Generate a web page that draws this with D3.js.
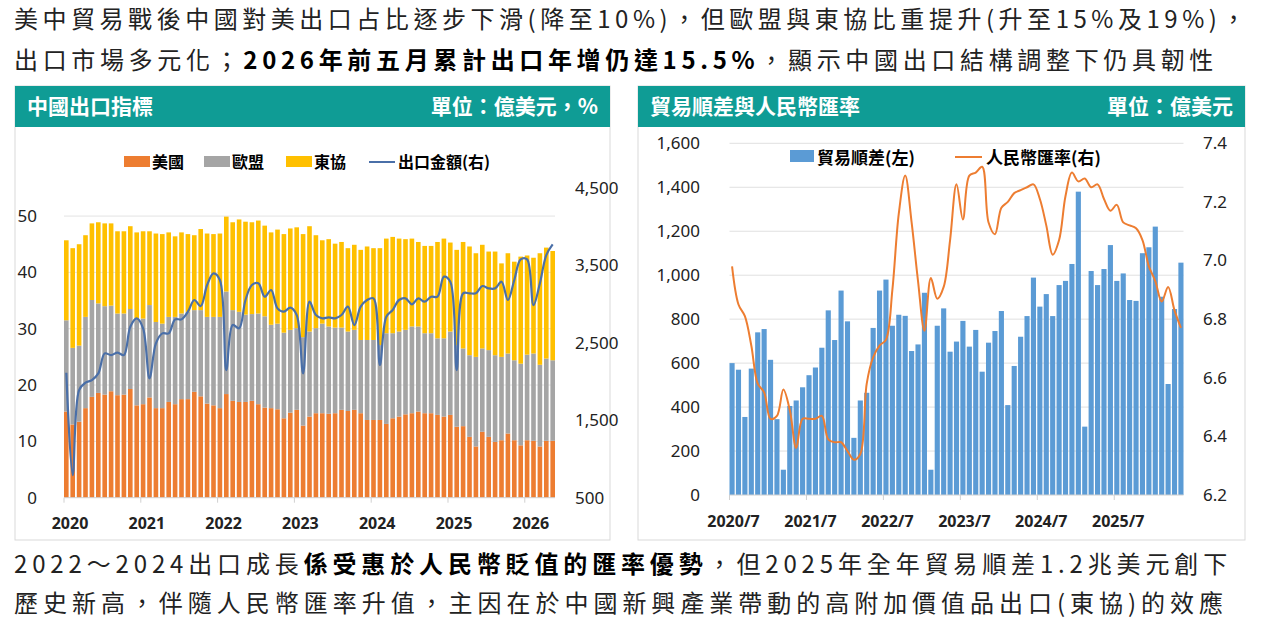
<!DOCTYPE html>
<html><head><meta charset="utf-8">
<script src="https://cdn.jsdelivr.net/npm/d3@7"></script>
<style>
body{margin:0;background:#fff;font-family:"Noto Sans CJK TC","Noto Sans",sans-serif;}
</style></head>
<body><svg id="c" width="1275" height="626"></svg>
<script>
// left chart: monthly 2020/1 - 2026/5, share of exports (%) and total exports (億美元)
const usShare = [15.3,13.0,13.5,15.9,17.9,18.6,18.3,18.9,18.2,18.3,19.3,16.4,
  16.6,17.8,15.9,15.9,17.0,16.6,17.5,17.5,18.8,18.0,16.7,16.4,
  15.9,18.4,17.2,17.0,17.0,17.2,16.6,16.0,15.9,15.7,14.1,15.1,
  15.6,12.8,14.4,15.0,15.0,14.9,15.0,15.6,15.4,15.6,15.0,13.8,
  13.8,13.8,13.1,14.1,14.4,14.8,15.0,15.3,15.0,15.0,14.7,14.4,
  14.7,12.6,12.7,10.8,9.1,11.7,10.8,9.9,10.2,11.4,10.2,9.3,
  10.2,10.1,9.1,10.1,10.1];
const euTop = [31.5,26.6,27.0,32.1,35.1,34.5,34.0,34.1,32.7,32.7,33.5,31.8,
  31.8,34.2,31.2,30.9,32.1,32.1,32.7,33.0,33.3,33.3,32.1,32.1,
  32.1,36.6,33.3,33.0,32.5,32.6,32.7,32.2,30.7,30.9,29.3,29.8,
  30.1,28.5,29.5,30.1,30.9,30.4,30.2,30.2,29.5,29.8,28.0,28.0,
  28.0,27.1,29.2,29.2,29.5,29.8,30.4,30.4,29.2,29.2,28.3,28.3,
  29.5,27.1,26.5,25.3,25.0,26.5,26.2,25.3,25.0,25.6,24.4,23.8,
  25.4,25.6,23.6,24.7,24.4];
const aseanTop = [45.7,44.3,45.0,46.6,48.7,48.9,48.7,48.7,47.3,47.3,48.2,47.1,
  47.3,47.3,46.9,46.8,47.1,46.4,47.1,46.8,46.6,47.7,46.9,46.8,
  46.9,49.9,48.9,49.4,49.0,48.9,49.2,48.3,47.1,47.6,46.8,47.8,
  48.0,46.8,48.2,46.6,45.7,45.9,45.1,45.4,44.3,44.9,44.0,44.6,
  44.3,44.3,46.0,46.3,46.0,45.9,46.0,45.4,44.7,44.7,45.4,46.0,
  45.3,44.0,45.4,44.6,43.4,44.9,43.7,43.7,41.6,43.4,41.9,42.8,
  43.0,42.6,43.4,44.4,43.8];
const exportTotal = [2113,792,1889,1984,2018,2104,2362,2340,2371,2340,2706,2814,
  2685,2040,2491,2620,2620,2801,2801,2900,3051,2973,3244,3395,
  3309,2147,2728,2685,3051,3244,3266,3094,3180,2943,2900,2952,
  2857,2104,3029,2857,2814,2827,2814,2857,2965,2728,2965,3051,
  3072,2212,2836,2922,3051,3072,2995,3072,3029,3094,3094,3352,
  3287,2147,3137,3137,3137,3231,3201,3201,3287,3051,3309,3575,
  3575,2986,3266,3631,3769];
const exportYears = ['2020','2021','2022','2023','2024','2025','2026'];

// right chart: monthly 2020/7 - 2026/5
const surplus = [600,570,355,575,740,755,615,345,115,405,430,490,
  545,580,670,840,705,930,790,260,430,465,760,930,
  980,770,820,815,655,685,920,115,770,849,652,698,
  792,675,751,561,693,746,837,409,587,720,814,989,
  857,914,814,955,974,1051,1380,311,1019,955,1028,1137,
  974,1008,887,883,1100,1127,1221,902,505,846,1057];
const rmbRate = [6.98,6.85,6.81,6.71,6.58,6.55,6.46,6.47,6.56,6.49,6.36,6.46,
  6.46,6.46,6.47,6.39,6.38,6.38,6.35,6.32,6.34,6.58,6.67,6.71,
  6.73,6.90,7.16,7.29,7.13,6.93,6.76,6.94,6.87,6.91,7.07,7.26,
  7.14,7.29,7.30,7.32,7.13,7.09,7.18,7.20,7.23,7.24,7.25,7.26,
  7.21,7.12,7.02,7.07,7.22,7.30,7.27,7.28,7.25,7.26,7.21,7.17,
  7.19,7.13,7.12,7.11,7.07,6.98,6.93,6.86,6.91,6.83,6.77];
const surplusTicks = [0,200,400,600,800,1000,1200,1400,1600];
const rateTicks = [6.2,6.4,6.6,6.8,7.0,7.2,7.4];
const surplusLabels = ['2020/7','2021/7','2022/7','2023/7','2024/7','2025/7'];

const teal = '#0f9c95';
const svg = d3.select('#c');
const fmt = d3.format(',');

// headline texts, stretched to the width they take in the original
function richLine(y, endX, parts){
  const t = svg.append('text').attr('x', 14).attr('y', y).style('font-size', '24px').style('fill', '#222');
  parts.forEach(p => t.append('tspan').text(p[0]).style('font-weight', p[1] ? 'bold' : 'normal').style('fill', p[1] ? '#000' : '#222'));
  const w = t.node().getComputedTextLength();
  const n = parts.map(p=>p[0]).join('').length;
  t.style('letter-spacing', ((endX - 14 - w) / n) + 'px');
}
richLine(28, 1250, [['美中貿易戰後中國對美出口占比逐步下滑(降至10%)，但歐盟與東協比重提升(升至15%及19%)，', false]]);
richLine(69, 1218, [['出口市場多元化；', false], ['2026年前五月累計出口年增仍達15.5%', true], ['，顯示中國出口結構調整下仍具韌性', false]]);
richLine(573, 1232, [['2022～2024出口成長', false], ['係受惠於人民幣貶值的匯率優勢', true], ['，但2025年全年貿易順差1.2兆美元創下', false]]);
richLine(612, 1228, [['歷史新高，伴隨人民幣匯率升值，主因在於中國新興產業帶動的高附加價值品出口(東協)的效應', false]]);

// panels
function panel(x, w, title, unit){
  svg.append('rect').attr('x', x).attr('y', 86).attr('width', w).attr('height', 454)
     .attr('fill', '#fff').attr('stroke', '#d9d9d9');
  svg.append('rect').attr('x', x).attr('y', 86).attr('width', w).attr('height', 41).attr('fill', teal);
  svg.append('text').attr('x', x + 12).attr('y', 114).text(title)
     .style('fill', '#fff').style('font-size', '21px').style('font-weight', 'bold');
  svg.append('text').attr('x', x + w - 12).attr('y', 114).attr('text-anchor', 'end').text(unit)
     .style('fill', '#fff').style('font-size', '21px').style('font-weight', 'bold');
}
panel(15, 595, '中國出口指標', '單位：億美元，%');
panel(638, 607, '貿易順差與人民幣匯率', '單位：億美元');

function styleAxis(g){
  g.select('.domain').remove();
  g.selectAll('line').remove();
  g.selectAll('text').style('font-size', '17px').style('fill', '#222').style('font-family', '"Noto Sans",sans-serif');
}

// ---- left chart
{
  const months = d3.range(usShare.length);
  const x = d3.scaleBand().domain(months).range([64, 555]).paddingInner(0.28);
  const y = d3.scaleLinear().domain([0, 55]).range([497.7, 187.9]);
  const y2 = d3.scaleLinear().domain([500, 4500]).range([497.7, 187.7]);
  const g = svg.append('g');
  g.selectAll('.grid').data([10,20,30,40,50]).join('line')
   .attr('x1', 64).attr('x2', 555).attr('y1', d=>y(d)).attr('y2', d=>y(d)).attr('stroke', '#e3e3e3');
  const stack = months.map(i => [
    {y0:0, y1:usShare[i], c:'#ED7D31'},
    {y0:usShare[i], y1:euTop[i], c:'#A5A5A5'},
    {y0:euTop[i], y1:aseanTop[i], c:'#FFC000'}]);
  months.forEach(i => {
    g.selectAll(null).data(stack[i]).join('rect')
     .attr('x', x(i)).attr('width', x.bandwidth())
     .attr('y', d=>y(d.y1)).attr('height', d=>y(d.y0)-y(d.y1)).attr('fill', d=>d.c);
  });
  g.append('line').attr('x1', 64).attr('x2', 555).attr('y1', y(0)).attr('y2', y(0)).attr('stroke', '#d0d0d0');
  const step = x.step();
  g.selectAll('.tk').data(d3.range(0, 78, 12)).join('line')
   .attr('x1', d=>64 + d*step).attr('x2', d=>64 + d*step).attr('y1', y(0)).attr('y2', y(0)+5).attr('stroke', '#d0d0d0');
  const line = d3.line().x((d,i)=>x(i)+x.bandwidth()/2).y(d=>y2(d)).curve(d3.curveCatmullRom.alpha(0.5));
  g.append('path').attr('d', line(exportTotal)).attr('fill', 'none').attr('stroke', '#4A6FA8').attr('stroke-width', 2.2);
  g.append('g').attr('transform', 'translate(46,0)').call(d3.axisLeft(y).tickValues([0,10,20,30,40,50])).call(styleAxis);
  g.append('g').attr('transform', 'translate(566,0)').call(d3.axisRight(y2).tickValues([500,1500,2500,3500,4500]).tickFormat(fmt)).call(styleAxis);
  g.selectAll('.yl').data(exportYears).join('text')
   .attr('x', (d,i)=>64 + i*12*step + 6).attr('y', 529).attr('text-anchor', 'middle').text(d=>d)
   .style('font-size', '16px').style('font-family', '"Noto Sans",sans-serif').style('font-weight', 'bold').style('fill', '#222');
  // legend
  const leg = [['美國','#ED7D31'],['歐盟','#A5A5A5'],['東協','#FFC000']];
  const lx = [124, 204, 286];
  leg.forEach((d,i) => {
    g.append('rect').attr('x', lx[i]).attr('y', 156).attr('width', 26).attr('height', 11).attr('fill', d[1]);
    g.append('text').attr('x', lx[i] + 28).attr('y', 168).text(d[0]).style('font-size', '16px').style('font-weight', 'bold');
  });
  g.append('line').attr('x1', 369).attr('x2', 395).attr('y1', 162).attr('y2', 162).attr('stroke', '#4A6FA8').attr('stroke-width', 2);
  g.append('text').attr('x', 398).attr('y', 168).text('出口金額(右)').style('font-size', '16px').style('font-weight', 'bold');
}

// ---- right chart
{
  const months = d3.range(surplus.length);
  const x = d3.scaleBand().domain(months).range([729.5, 1183.5]).paddingInner(0.2);
  const y = d3.scaleLinear().domain([0, 1600]).range([495, 143.3]);
  const y2 = d3.scaleLinear().domain([6.2, 7.4]).range([495, 143.3]);
  const g = svg.append('g');
  g.selectAll('.grid').data(surplusTicks.slice(1)).join('line')
   .attr('x1', 729.5).attr('x2', 1183.5).attr('y1', d=>y(d)).attr('y2', d=>y(d)).attr('stroke', '#e0e0e0');
  g.selectAll('.bar').data(surplus).join('rect')
   .attr('x', (d,i)=>x(i)).attr('width', x.bandwidth())
   .attr('y', d=>y(d)).attr('height', d=>y(0)-y(d)).attr('fill', '#5B9BD5');
  g.append('line').attr('x1', 729.5).attr('x2', 1183.5).attr('y1', y(0)).attr('y2', y(0)).attr('stroke', '#d0d0d0');
  const step = x.step();
  g.selectAll('.tk').data(d3.range(0, 72, 12)).join('line')
   .attr('x1', d=>729.5 + d*step).attr('x2', d=>729.5 + d*step).attr('y1', y(0)).attr('y2', y(0)+5).attr('stroke', '#d0d0d0');
  const line = d3.line().x((d,i)=>x(i)+x.bandwidth()/2).y(d=>y2(d)).curve(d3.curveCatmullRom.alpha(0.5));
  g.append('path').attr('d', line(rmbRate)).attr('fill', 'none').attr('stroke', '#ED7D31').attr('stroke-width', 2);
  g.append('g').attr('transform', 'translate(709,0)').call(d3.axisLeft(y).tickValues(surplusTicks).tickFormat(fmt)).call(styleAxis);
  g.append('g').attr('transform', 'translate(1194,0)').call(d3.axisRight(y2).tickValues(rateTicks).tickFormat(d3.format('.1f'))).call(styleAxis);
  g.selectAll('.xl').data(surplusLabels).join('text')
   .attr('x', (d,i)=>729.5 + i*12*step + 4).attr('y', 527).attr('text-anchor', 'middle').text(d=>d)
   .style('font-size', '16px').style('font-family', '"Noto Sans",sans-serif').style('font-weight', 'bold').style('fill', '#222');
  g.append('rect').attr('x', 790).attr('y', 150).attr('width', 24).attr('height', 12).attr('fill', '#5B9BD5');
  g.append('text').attr('x', 817).attr('y', 164).text('貿易順差(左)').style('font-size', '17px').style('font-weight', 'bold');
  g.append('line').attr('x1', 955).attr('x2', 982).attr('y1', 157).attr('y2', 157).attr('stroke', '#ED7D31').attr('stroke-width', 2);
  g.append('text').attr('x', 986).attr('y', 164).text('人民幣匯率(右)').style('font-size', '17px').style('font-weight', 'bold');
}
</script></body></html>
